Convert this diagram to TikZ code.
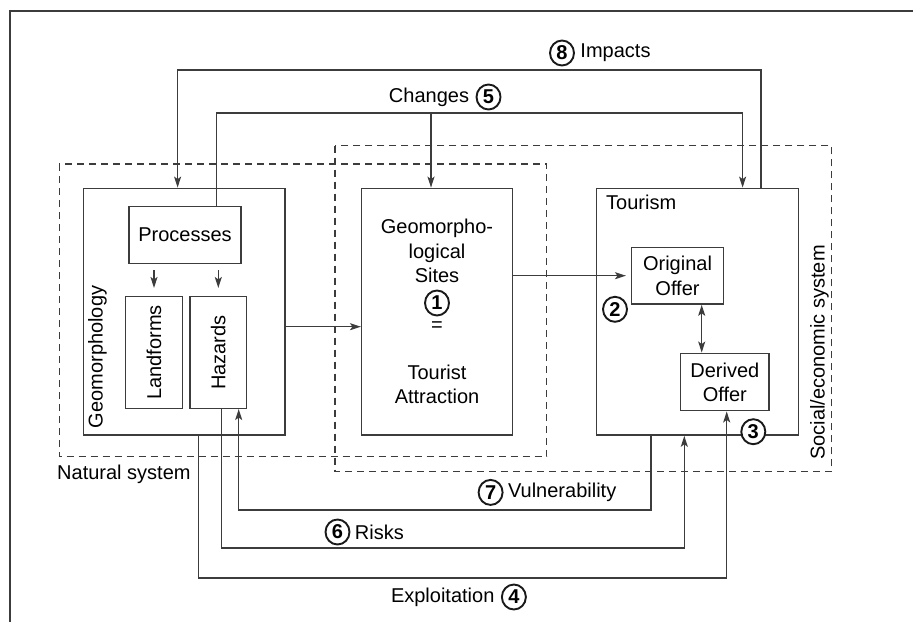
\documentclass[tikz,border=0pt]{standalone}
\usepackage{fontspec}
\setmainfont{Liberation Sans}
\usepackage{graphicx}
\definecolor{lngray}{RGB}{60,60,60}
\usetikzlibrary{arrows.meta,positioning,shapes.geometric}

\begin{document}
\begin{tikzpicture}[x=1pt,y=-1pt,>={Stealth[length=11pt,width=7pt,inset=2.5pt]},
  font=\fontsize{20}{24.3}\selectfont,
  box/.style={draw=lngray,line width=1.5pt,inner sep=0pt,align=center},
  zone/.style={draw=lngray,line width=1.2pt,dash pattern=on 7pt off 5pt},
  link/.style={draw=lngray,line width=1.4pt},
  numc/.style={ellipse,draw=black!90,line width=1.9pt,inner sep=0pt,minimum width=24pt,minimum height=25pt,
               font=\fontsize{20}{20}\selectfont\bfseries}]
  \useasboundingbox (0,0) rectangle (913,622);
  %% frame
  \draw[lngray,line width=2pt] (913,10.7) -- (9.5,10.7) -- (9.5,622);
  %% system zones
  \draw[zone] (59.3,164) rectangle (546.7,456.7);
  \draw[zone] (335,145.7) rectangle (831.7,471.7);
  \node[anchor=base west,inner sep=0pt] (natl) at (57,479) {Natural system};
  \node[rotate=90,anchor=north west,inner sep=0pt] (socl) at (810,460) {Social/economic system};
  %% Geomorphology
  \node[box,minimum width=201.7pt,minimum height=246.7pt] (geo) at (184.2,311.7) {};
  \node[rotate=90,anchor=north west,inner sep=0pt] (geol) at (88,428.3) {Geomorphology};
  \node[box,minimum width=112pt,minimum height=56.6pt] (proc) at (185,235) {Processes};
  \node[box,minimum width=56.6pt,minimum height=111.6pt] (land) at (154,352.5) {\rotatebox{90}{Landforms}};
  \node[box,minimum width=56.6pt,minimum height=111.6pt] (haz) at (218.3,352.5) {\rotatebox{90}{Hazards}};
  %% Sites
  \node[box,minimum width=150.6pt,minimum height=246.7pt] (sites) at (437,311.7)
       {Geomorpho-\\logical\\Sites\\\phantom{0}\\=\\[24.3pt]Tourist\\Attraction};
  %% Tourism
  \node[box,minimum width=201.6pt,minimum height=246.7pt] (tour) at (697.5,311.7) {};
  \node[anchor=north west,inner sep=0pt] (tourl) at ([xshift=10pt,yshift=-7pt]tour.north west) {Tourism};
  \node[box,minimum width=91.6pt,minimum height=56.7pt] (orig) at (677.5,275.7) {Original\\Offer};
  \node[box,minimum width=88.3pt,minimum height=57.4pt] (deriv) at (724.8,382) {Derived\\Offer};
  %% inner links
  \draw[link,->,shorten <=6pt,shorten >=8pt] (proc.south -| land.north) -- (land.north);
  \draw[link,->,shorten <=6pt,shorten >=8pt] (proc.south -| haz.north) -- (haz.north);
  \draw[link,->] ([yshift=-15pt]geo.east) -- ([yshift=-15pt]sites.west);
  \draw[link,->,shorten >=5pt] (sites.east |- orig.west) -- (orig.west);
  \coordinate (od) at (701.7,330);
  \draw[link,<->] (od |- orig.south) -- (od |- deriv.north);
  %% Impacts
  \coordinate (impR) at (761,70);
  \coordinate (impL) at (177.6,70);
  \draw[link,->] (impR |- tour.north) -- (impR) -- (impL) -- (impL |- geo.north);
  \node[numc] (n8) at (562,53) {8};
  \node[right=2pt of n8] (impl) {Impacts};
  %% Changes
  \coordinate (chgL) at (216.7,113);
  \coordinate (chgR) at (742.6,113);
  \coordinate (chgM) at (431,113);
  \draw[link,->] (chgL |- proc.north) -- (chgL) -- (chgR) -- (chgR |- tour.north);
  \draw[link,->] (chgM) -- (chgM |- sites.north);
  \node (chgl) at (429,97) {Changes};
  \node[numc,right=3pt of chgl] (n5) {5};
  %% Vulnerability, Risks, Exploitation
  \coordinate (vulR) at (651,510);
  \coordinate (vulL) at (238.7,510);
  \draw[link,->] (vulR |- tour.south) -- (vulR) -- (vulL) -- (vulL |- haz.south);
  \coordinate (rskL) at (221.6,548);
  \coordinate (rskR) at (684.3,548);
  \draw[link,->] (rskL |- haz.south) -- (rskL) -- (rskR) -- (rskR |- tour.south);
  \coordinate (expL) at (198.6,578);
  \coordinate (expR) at (726.7,578);
  \draw[link,->] (expL |- geo.south) -- (expL) -- (expR) -- (expR |- deriv.south);
  \node[numc] (n7) at (490.6,492.4) {7};
  \node[right=1pt of n7] (vull) {Vulnerability};
  \node[numc] (n6) at (337.5,532) {6};
  \node[right=1pt of n6] (rskl) {Risks};
  \node (expl) at (442.7,597) {Exploitation};
  \node[numc,right=3pt of expl] (n4) {4};
  %% numbered markers
  \node[numc] (n1) at (437,303) {1};
  \node[numc] (n2) at (615,309.3) {2};
  \node[numc,fill=white] (n3) at (753.3,431.7) {3};
\end{tikzpicture}
\end{document}
